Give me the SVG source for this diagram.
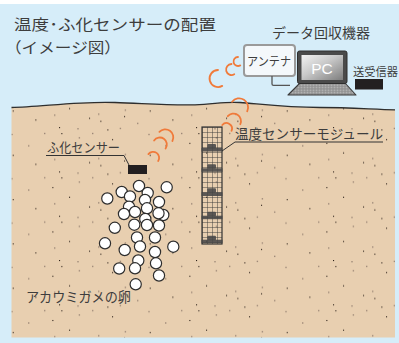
<svg xmlns="http://www.w3.org/2000/svg" width="399" height="343" viewBox="0 0 399 343">
  <style>
    .jp { font-family: 'Noto Sans CJK JP', 'Noto Sans CJK SC', sans-serif; fill: #3d3d3d; }
    .wave { fill: none; stroke: #f07a3a; stroke-width: 1.8; stroke-linecap: round; }
    .lead { fill: none; stroke: #333; stroke-width: 1; }
    .egg { fill: #fff; stroke: #2d2d2d; stroke-width: 1.2; }
    .sens { fill: #474747; fill-opacity: 0.88; }
    .dk { fill: #2b2018; }
    .lt { fill: #9d8877; }
  </style>
  <defs>
    <!-- scattered grains in the sand, repeating tile -->
    <pattern id="grains" patternUnits="userSpaceOnUse" x="180" y="260" width="137" height="44.3">
      <rect class="dk" x="16" y="0" width="1.1" height="1.1"/>
      <rect class="lt" x="34.3" y="1" width="1.4" height="1.4"/>
      <rect class="lt" x="76.7" y="0.7" width="1.4" height="1.4"/>
      <rect class="lt" x="1" y="5.7" width="1.4" height="1.4"/>
      <rect class="dk" x="18.3" y="6" width="1.1" height="1.1"/>
      <rect class="lt" x="49" y="5.7" width="1.4" height="1.4"/>
      <rect class="dk" x="64.3" y="2.3" width="1.1" height="1.1"/>
      <rect class="lt" x="105.3" y="6.7" width="1.4" height="1.4"/>
      <rect class="lt" x="35.7" y="10" width="1.4" height="1.4"/>
      <rect class="dk" x="69" y="12" width="1.1" height="1.1"/>
      <rect class="dk" x="9.3" y="15.7" width="1.1" height="1.1"/>
      <rect class="lt" x="122" y="18" width="1.4" height="1.4"/>
      <rect class="dk" x="26" y="25.3" width="1.1" height="1.1"/>
      <rect class="lt" x="81.7" y="26.7" width="1.4" height="1.4"/>
      <rect class="dk" x="106.7" y="27.7" width="1.1" height="1.1"/>
      <rect class="lt" x="11" y="31.7" width="1.4" height="1.4"/>
      <rect class="lt" x="55" y="30.7" width="1.4" height="1.4"/>
      <rect class="dk" x="81" y="33.3" width="1.1" height="1.1"/>
      <rect class="dk" x="129.3" y="36.7" width="1.1" height="1.1"/>
      <rect class="dk" x="46" y="35" width="1.1" height="1.1"/>
      <rect class="dk" x="57.3" y="38" width="1.1" height="1.1"/>
      <rect class="lt" x="94" y="40" width="1.4" height="1.4"/>
    </pattern>
    <!-- 5px mesh of the sensor module -->
    <pattern id="mesh" patternUnits="userSpaceOnUse" x="202" y="127" width="5" height="5">
      <path d="M0,0 H5 M0,0 V5" fill="none" stroke="#333" stroke-width="0.9"/>
    </pattern>
    <pattern id="keys" patternUnits="userSpaceOnUse" x="0" y="84" width="3" height="2.5">
      <rect width="3" height="2.5" fill="#8c8c8c"/>
      <rect x="0.5" y="0.5" width="2" height="1.4" fill="#b9b9b9"/>
    </pattern>
    <linearGradient id="screen" x1="0" y1="0" x2="1" y2="1">
      <stop offset="0" stop-color="#f2f2f2"/>
      <stop offset="0.45" stop-color="#c8c8c8"/>
      <stop offset="1" stop-color="#7d7d7d"/>
    </linearGradient>
  </defs>

  <!-- sky / frame -->
  <rect x="0" y="0" width="399" height="343" fill="#d6edf9"/>
  <rect x="0" y="0" width="399" height="4" fill="#ffffff"/>

  <!-- ground -->
  <g id="ground">
    <path d="M11.5,107.5 C40,107 80,101 115,102.5 C145,103.5 170,105.5 195,104.8 C215,104 225,101.5 240,102.5 C260,104 285,107.5 320,107.5 C350,107.5 375,109.5 395,109.8 V337.5 H11.5 Z" fill="#e8cfb0"/>
    <path d="M11.5,107.5 C40,107 80,101 115,102.5 C145,103.5 170,105.5 195,104.8 C215,104 225,101.5 240,102.5 C260,104 285,107.5 320,107.5 C350,107.5 375,109.5 395,109.8 V337.5 H11.5 Z" fill="url(#grains)"/>
    <path d="M11.5,107.5 C40,107 80,101 115,102.5 C145,103.5 170,105.5 195,104.8 C215,104 225,101.5 240,102.5 C260,104 285,107.5 320,107.5 C350,107.5 375,109.5 395,109.8" fill="none" stroke="#2e2e2e" stroke-width="1.3"/>
  </g>

  <!-- title -->
  <g id="title">
    <text class="jp" x="14" y="30.3" font-size="15.2" textLength="202" lengthAdjust="spacingAndGlyphs">温度･ふ化センサーの配置</text>
    <text class="jp" x="5" y="52.5" font-size="15.2" textLength="116" lengthAdjust="spacingAndGlyphs">（イメージ図）</text>
  </g>

  <!-- data collection equipment -->
  <g id="collector">
    <text class="jp" x="272" y="37.5" font-size="13.5" textLength="98" lengthAdjust="spacingAndGlyphs">データ回収機器</text>
  </g>

  <g id="antenna">
    <rect x="244" y="45" width="51" height="31" rx="3" fill="#f4f8fb" stroke="#9a9a9a" stroke-width="2"/>
    <text class="jp" x="247" y="66" font-size="12" textLength="44" lengthAdjust="spacingAndGlyphs">アンテナ</text>
  </g>

  <g id="pc">
    <path d="M300,83 H345 L356,95 H288 Z" fill="url(#keys)" stroke="#3a3a3a" stroke-width="1.1" stroke-linejoin="round"/>
    <rect x="297.5" y="51" width="49.5" height="32.5" rx="2" fill="#4a4a4a" stroke="#2e2e2e" stroke-width="1"/>
    <rect x="301.5" y="55" width="41.5" height="25" fill="url(#screen)"/>
    <text x="322" y="74" font-family="'Liberation Sans', Arial, sans-serif" font-size="15.5" fill="#ffffff" text-anchor="middle">PC</text>
  </g>

  <g id="transceiver">
    <text class="jp" x="353" y="76" font-size="11.5" textLength="45" lengthAdjust="spacingAndGlyphs">送受信器</text>
    <rect x="355" y="79" width="28" height="10.5" fill="#231f20"/>
  </g>

  <!-- temperature sensor module -->
  <g id="module">
    <rect x="202" y="127" width="20" height="117" fill="url(#mesh)" stroke="#333" stroke-width="1.2"/>
    <rect class="sens" x="207.3" y="144" width="8.7" height="4.5" rx="1"/>
    <rect class="sens" x="201.5" y="148" width="21" height="3.5"/>
    <rect class="sens" x="207.3" y="164.3" width="8.7" height="4.5" rx="1"/>
    <rect class="sens" x="201.5" y="168.3" width="21" height="3.5"/>
    <rect class="sens" x="207.3" y="188.3" width="8.7" height="4.5" rx="1"/>
    <rect class="sens" x="201.5" y="192.3" width="21" height="3.7"/>
    <rect class="sens" x="207.3" y="211.7" width="8.7" height="4.5" rx="1"/>
    <rect class="sens" x="201.5" y="215.7" width="21" height="3.5"/>
    <rect class="sens" x="207.3" y="235.7" width="8.7" height="4.5" rx="1"/>
    <rect class="sens" x="201.5" y="239.7" width="21" height="3.5"/>
    <text class="jp" x="235" y="138.5" font-size="13.5" textLength="148" lengthAdjust="spacingAndGlyphs">温度センサーモジュール</text>
  </g>

  <!-- hatching sensor -->
  <g id="hatch-sensor">
    <rect x="128" y="165" width="19" height="9" fill="#231f20"/>
    <text class="jp" x="47" y="151.5" font-size="13" textLength="73" lengthAdjust="spacingAndGlyphs">ふ化センサー</text>
  </g>

  <!-- turtle eggs -->
  <g id="eggs">
    <circle class="egg" cx="139" cy="186" r="5.6"/>
    <circle class="egg" cx="166.7" cy="187.3" r="5.6"/>
    <circle class="egg" cx="121.7" cy="192" r="5.6"/>
    <circle class="egg" cx="147.7" cy="193" r="5.6"/>
    <circle class="egg" cx="130" cy="196.5" r="5.6"/>
    <circle class="egg" cx="107.3" cy="198.5" r="5.6"/>
    <circle class="egg" cx="145" cy="200" r="5.6"/>
    <circle class="egg" cx="159" cy="202" r="5.6"/>
    <circle class="egg" cx="129" cy="206.7" r="5.6"/>
    <circle class="egg" cx="147" cy="208.3" r="5.6"/>
    <circle class="egg" cx="124" cy="214" r="5.6"/>
    <circle class="egg" cx="135" cy="212" r="5.6"/>
    <circle class="egg" cx="163.3" cy="215" r="5.6"/>
    <circle class="egg" cx="158.5" cy="213.3" r="5.6"/>
    <circle class="egg" cx="145.3" cy="219" r="5.6"/>
    <circle class="egg" cx="134.3" cy="224.7" r="5.6"/>
    <circle class="egg" cx="147" cy="225" r="5.6"/>
    <circle class="egg" cx="159" cy="225.5" r="5.6"/>
    <circle class="egg" cx="114.8" cy="227.8" r="5.6"/>
    <circle class="egg" cx="137" cy="237.5" r="5.6"/>
    <circle class="egg" cx="155" cy="237.5" r="5.6"/>
    <circle class="egg" cx="105" cy="243.3" r="5.6"/>
    <circle class="egg" cx="140" cy="246.5" r="5.6"/>
    <circle class="egg" cx="173.3" cy="246.7" r="5.6"/>
    <circle class="egg" cx="124.7" cy="250" r="5.6"/>
    <circle class="egg" cx="155" cy="252" r="5.6"/>
    <circle class="egg" cx="138.3" cy="260.5" r="5.6"/>
    <circle class="egg" cx="156" cy="263.3" r="5.6"/>
    <circle class="egg" cx="119.2" cy="268.5" r="5.6"/>
    <circle class="egg" cx="135" cy="268.3" r="5.6"/>
    <circle class="egg" cx="159" cy="275.5" r="5.6"/>
    <circle class="egg" cx="135.7" cy="284.3" r="5.6"/>
    <text class="jp" x="26" y="302" font-size="13.5" textLength="105" lengthAdjust="spacingAndGlyphs">アカウミガメの卵</text>
  </g>

  <!-- connectors: leader lines, cable and radio waves -->
  <g id="connectors">
    <path class="lead" d="M46,155.5 H124 L129,165"/>
    <path class="lead" d="M383,142 H235 L222,151"/>
    <path d="M272,76 V84 Q272,85.3 273.5,85.3 H290" fill="none" stroke="#555" stroke-width="1.3"/>
    <!-- antenna waves -->
    <path class="wave" d="M238,57 A4.5,4.5 0 1 0 240.25,65.4"/>
    <path class="wave" d="M231.5,64 A5.5,5.5 0 1 0 234.25,74.3"/>
    <path class="wave" d="M218,70 A8.5,8.5 0 1 0 222.25,85.9"/>
    <!-- module waves -->
    <path class="wave" d="M232.1,101.7 A9,9 0 0 1 247.2,111.3"/>
    <path class="wave" d="M227.8,116.2 A7.5,7.5 0 0 1 240.3,124.2"/>
    <path class="wave" d="M222.3,125 A5.5,5.5 0 0 1 231.5,130.8"/>
    <!-- hatching sensor waves -->
    <path class="wave" d="M159.4,131.9 A8,8 0 0 1 172.4,141"/>
    <path class="wave" d="M154.1,140.5 A7,7 0 0 1 165.6,148.5"/>
    <path class="wave" d="M148.4,154.1 A6,6 0 0 1 158.2,161"/>
  </g>
</svg>
